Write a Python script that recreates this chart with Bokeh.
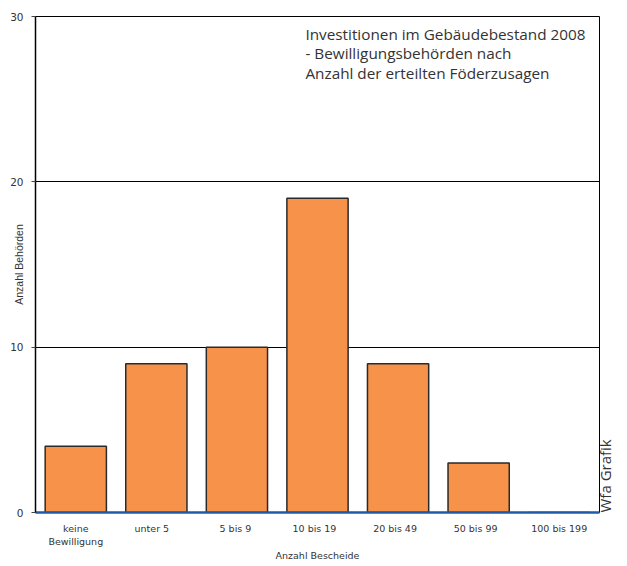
from bokeh.plotting import figure
from bokeh.models import Range1d, FixedTicker, Label, ColumnDataSource, LinearAxis
from bokeh.embed import file_html
from bokeh.resources import INLINE

categories = ["keine\nBewilligung", "unter    5", "5 bis  9", "10 bis   19",
              "20 bis   49", "50 bis   99", "100 bis 199"]
values = [4, 9, 10, 19, 9, 3, 0]
y_ticks = [0, 10, 20, 30]

title_text = "Investitionen im Gebäudebestand 2008\n- Bewilligungsbehörden nach\nAnzahl der erteilten Föderzusagen"

p = figure(x_range=categories, y_range=Range1d(0, 30), width=627, height=566,
           output_backend="svg", toolbar_location=None,
           min_border_left=35, min_border_right=22, min_border_top=16, min_border_bottom=54)
p.x_range.range_padding = 0

src = ColumnDataSource(dict(x=categories, top=values))
p.vbar(x="x", top="top", width=0.76, source=src, fill_color="#F7924A",
       line_color="#2a2a2a", line_width=1.5)

p.outline_line_color = "black"
p.outline_line_width = 1
p.xgrid.grid_line_color = None
p.ygrid.grid_line_color = "black"
p.ygrid.grid_line_width = 1
p.ygrid.ticker = FixedTicker(ticks=y_ticks)

p.yaxis.ticker = FixedTicker(ticks=y_ticks)
p.yaxis.axis_line_color = "black"
p.yaxis.axis_line_width = 1.5
p.yaxis.major_tick_in = 0
p.yaxis.major_tick_out = 4
p.yaxis.major_tick_line_color = "#444444"
p.yaxis.minor_tick_line_color = None
p.yaxis.major_label_standoff = 8
p.yaxis.major_label_text_font = "DejaVu Sans"
p.yaxis.major_label_text_font_size = "10.5px"
p.yaxis.major_label_text_color = "#333333"
p.yaxis.axis_label = "Anzahl Behörden"
p.yaxis.axis_label_standoff = -18
p.yaxis.axis_label_text_font = "Liberation Sans"
p.yaxis.axis_label_text_font_size = "10.5px"
p.yaxis.axis_label_text_font_style = "normal"
p.yaxis.axis_label_text_color = "#333333"

p.xaxis.axis_line_color = "#1F5BA8"
p.xaxis.axis_line_width = 2.5
p.xaxis.major_tick_line_color = None
p.xaxis.minor_tick_line_color = None
p.xaxis.major_label_standoff = 4
p.xaxis.major_label_text_font = "DejaVu Sans"
p.xaxis.major_label_text_font_size = "9.5px"
p.xaxis.major_label_text_color = "#333333"
p.xaxis.axis_label = "Anzahl Bescheide"
p.xaxis.axis_label_standoff = 0
p.xaxis.axis_label_text_font = "DejaVu Sans"
p.xaxis.axis_label_text_font_size = "9.5px"
p.xaxis.axis_label_text_font_style = "normal"
p.xaxis.axis_label_text_color = "#333333"

right = LinearAxis(ticker=FixedTicker(ticks=[]), axis_line_color=None,
                   major_tick_line_color=None, minor_tick_line_color=None,
                   major_tick_in=0, major_tick_out=0, minor_tick_in=0, minor_tick_out=0,
                   major_label_standoff=0,
                   axis_label="Wfa Grafik", axis_label_orientation=-4.71239,
                   axis_label_align="start", axis_label_standoff=5,
                   axis_label_text_font="Open Sans", axis_label_text_font_size="15px",
                   axis_label_text_font_style="normal", axis_label_text_color="#333333")
p.add_layout(right, "right")

p.add_layout(Label(x=3.35, y=29.55, text=title_text, text_font="Open Sans",
                   text_font_size="15.3px", text_color="#333333", text_baseline="top",
                   text_align="left", text_line_height=0.97))

open("out.html", "w").write(file_html(p, INLINE))
